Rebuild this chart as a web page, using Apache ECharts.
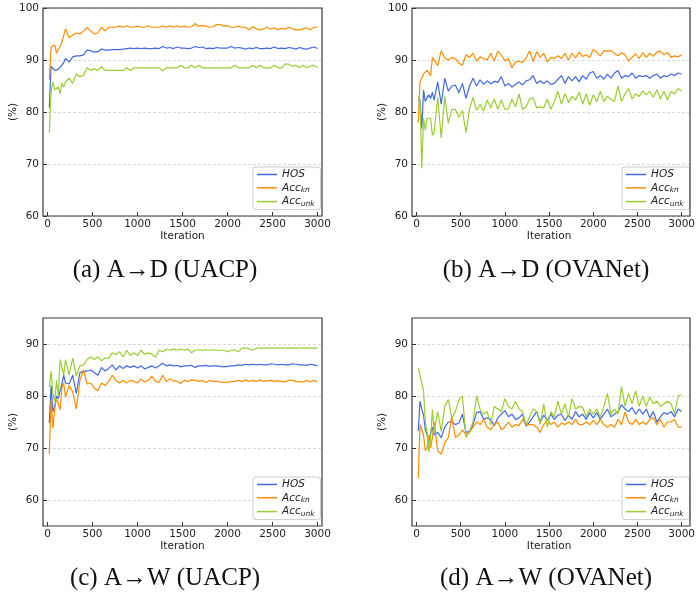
<!DOCTYPE html>
<html>
<head>
<meta charset="utf-8">
<script src="https://cdn.jsdelivr.net/npm/echarts@6/dist/echarts.min.js"></script>
<style>html,body{margin:0;padding:0;background:#fff;}#c{width:698px;height:592px;}</style>
</head>
<body>
<div id="c"></div>
<script>
const iterations = [20,40,60,80,100,120,140,160,180,200,240,280,320,360,400,440,480,520,560,600,640,680,720,760,800,840,880,920,960,1000,1040,1080,1120,1160,1200,1240,1280,1320,1360,1400,1440,1480,1520,1560,1600,1640,1680,1720,1760,1800,1840,1880,1920,1960,2000,2040,2080,2120,2160,2200,2240,2280,2320,2360,2400,2440,2480,2520,2560,2600,2640,2680,2720,2760,2800,2840,2880,2920,2960,3000];
const xTicks = [0,500,1000,1500,2000,2500,3000];
const seriesNames = ['HOS','Acc_kn','Acc_unk'];
const captions = ['(a) A\u2192D (UACP)','(b) A\u2192D (OVANet)','(c) A\u2192W (UACP)','(d) A\u2192W (OVANet)'];

// (a) A->D UACP
const aHOS = [80.8,88.8,88.5,88.0,87.9,88.2,88.2,89.0,89.5,90.3,
 89.6,90.6,90.8,90.8,91.0,91.9,91.8,91.5,91.6,92.1,
 91.9,91.9,92.0,92.0,92.0,92.1,92.2,92.3,92.2,92.3,
 92.2,92.3,92.2,92.2,92.3,92.2,92.6,92.3,92.4,92.2,
 92.5,92.3,92.3,92.2,92.3,92.6,92.4,92.5,92.2,92.3,
 92.2,92.4,92.3,92.3,92.3,92.6,92.3,92.4,92.3,92.1,
 92.3,92.2,92.4,92.2,92.2,92.3,92.2,92.5,92.2,92.3,
 92.2,92.4,92.3,92.1,92.4,92.2,92.1,92.3,92.5,92.2];
const aKn = [86.2,92.5,92.3,92.9,91.3,92.0,92.6,93.4,93.6,96.0,
 94.3,94.8,95.2,95.0,95.6,96.2,95.6,95.0,95.2,96.3,
 95.6,96.3,96.3,96.3,96.5,96.3,96.6,96.3,96.3,96.5,
 96.3,96.3,96.6,96.3,96.3,96.3,96.5,96.3,96.6,96.3,
 96.6,96.3,96.5,96.3,96.4,97.0,96.5,96.6,96.5,96.3,
 96.4,96.8,96.8,96.5,96.6,96.3,96.3,96.5,96.3,96.3,
 95.8,96.4,96.0,95.8,96.0,96.3,95.9,96.2,95.8,96.1,
 95.9,96.3,96.0,95.8,95.8,96.0,96.2,95.8,96.3,96.3];
const aUnk = [76.0,84.0,85.8,84.3,84.5,84.8,83.5,85.6,84.8,85.8,
 86.5,85.5,87.3,86.8,87.0,88.5,88.0,88.3,88.0,88.7,
 88.0,88.0,88.0,88.0,88.0,88.0,88.5,88.0,88.5,88.5,
 88.5,88.5,88.5,88.5,88.5,88.5,87.9,88.5,88.5,88.5,
 88.5,89.0,88.5,88.5,89.0,88.5,89.0,88.5,88.5,88.5,
 88.5,88.5,88.5,88.5,88.5,88.5,89.0,88.5,88.5,88.5,
 88.5,89.0,88.5,89.0,88.5,88.5,88.5,89.0,88.5,88.5,
 89.2,89.2,88.8,89.0,88.5,89.0,88.5,88.8,89.0,88.5];

// (b) A->D OVANet
const bHOS = [82.5,82.0,76.8,84.2,82.0,82.8,83.3,82.6,83.8,82.3,
 85.8,81.5,86.5,84.0,85.0,85.2,83.7,85.5,82.6,85.0,
 86.5,85.0,86.2,85.3,86.0,85.4,85.9,85.7,86.8,85.0,
 85.5,84.8,85.3,85.8,85.2,86.0,86.2,87.0,85.5,86.0,
 85.5,86.0,85.3,85.5,86.3,87.0,85.5,86.8,86.0,86.8,
 85.8,87.0,86.3,87.5,87.8,86.5,87.0,86.3,87.3,86.5,
 87.5,88.0,86.5,87.0,86.8,87.5,86.5,87.0,86.8,87.0,
 86.5,87.0,87.3,86.5,87.0,86.8,87.3,87.0,87.5,87.3];
const bKn = [78.0,85.8,86.5,87.3,87.5,88.0,88.2,87.0,90.5,90.0,
 88.9,91.8,90.4,90.0,90.5,90.2,89.4,89.0,91.0,90.5,
 91.3,89.8,90.6,90.3,90.0,91.3,89.8,91.7,91.0,89.8,
 90.3,88.5,89.6,89.8,89.5,90.4,91.8,89.7,91.6,90.5,
 91.3,89.6,90.5,90.3,90.8,90.3,91.3,90.0,91.3,90.4,
 91.5,90.7,91.0,90.5,92.0,91.5,90.8,91.8,91.7,91.8,
 91.3,90.8,91.4,91.0,89.8,90.5,91.2,90.3,91.4,90.5,
 91.3,90.7,91.5,91.7,91.0,91.4,90.5,90.8,90.6,91.0];
const bUnk = [83.0,82.5,69.2,78.8,76.5,78.8,79.0,78.8,75.5,76.2,
 82.8,75.0,83.0,77.8,80.5,80.5,79.0,80.3,76.0,80.5,
 82.8,80.3,81.5,80.2,82.3,80.8,82.5,80.5,82.3,80.5,
 80.6,82.5,81.0,83.5,80.5,81.0,82.5,82.8,80.8,81.0,
 80.8,82.5,80.5,82.0,84.0,81.5,83.5,81.8,83.0,82.3,
 83.8,81.5,83.5,81.3,83.3,82.0,84.0,82.0,83.0,82.5,
 82.0,85.0,82.0,83.5,84.5,82.5,83.5,83.0,84.0,83.3,
 84.0,82.8,84.3,82.5,84.0,82.3,84.0,83.5,84.5,84.0];

// (c) A->W UACP
const cHOS = [74.8,82.0,77.0,78.0,80.0,79.5,81.0,82.3,84.0,82.5,
 82.3,84.0,80.5,84.5,84.8,84.8,85.0,84.5,84.0,85.5,
 84.8,85.3,86.0,85.0,85.8,85.3,85.8,85.5,85.8,85.4,
 85.8,85.2,85.5,85.8,85.4,85.8,86.3,85.8,86.0,85.8,
 85.9,85.6,85.8,85.8,85.9,85.5,85.8,85.8,85.9,85.7,
 85.8,85.8,85.7,85.6,85.7,85.8,85.8,86.0,85.9,86.1,
 86.0,86.1,86.0,86.1,86.0,86.0,86.2,86.1,86.0,86.1,
 86.0,86.0,86.2,86.1,86.0,86.0,85.9,86.1,86.0,85.8];
const cKn = [68.8,79.2,73.8,77.5,79.5,78.5,77.3,81.5,82.5,79.8,
 82.0,80.8,77.5,83.0,85.0,82.3,82.5,81.5,81.0,82.5,
 82.0,82.8,84.0,83.0,82.5,83.0,82.5,83.0,82.8,82.5,
 83.3,82.7,83.0,83.8,82.8,82.6,84.0,82.8,83.3,82.9,
 82.8,82.4,83.0,82.8,83.1,83.0,82.8,83.0,82.6,83.0,
 82.8,82.8,82.7,82.6,82.7,82.7,82.8,83.0,82.8,83.1,
 82.8,83.0,82.8,83.1,82.8,82.9,83.0,82.8,82.9,82.8,
 82.7,83.0,83.0,82.8,82.7,82.7,83.0,82.7,83.0,82.7];
const cUnk = [81.8,84.8,80.5,79.0,83.0,80.0,87.0,86.8,84.0,87.0,
 84.0,87.3,83.8,85.8,86.0,87.0,87.5,87.0,87.5,86.8,
 87.3,87.3,88.3,88.0,88.5,87.5,88.8,87.8,88.3,87.8,
 88.8,88.0,88.3,88.0,87.5,88.8,88.5,89.0,88.8,89.0,
 88.8,89.0,88.8,89.0,88.3,88.8,88.9,88.8,88.9,88.8,
 88.9,88.8,88.8,88.8,88.5,88.8,88.9,88.5,89.2,89.2,
 89.1,88.8,89.2,89.2,89.2,89.2,89.2,89.2,89.2,89.2,
 89.2,89.2,89.2,89.2,89.2,89.2,89.2,89.2,89.2,89.2];

// (d) A->W OVANet
const dHOS = [73.3,79.0,77.5,76.3,73.5,72.5,71.0,73.0,74.0,72.5,
 73.0,72.0,74.0,75.0,75.0,74.5,74.8,76.5,73.0,73.2,
 74.5,76.8,77.0,75.5,75.8,75.5,74.3,75.8,76.5,77.2,
 76.0,76.5,75.5,75.8,76.5,74.2,75.0,76.0,77.0,75.0,
 76.3,75.3,76.5,75.5,76.3,76.5,75.3,76.3,75.5,77.0,
 76.0,76.5,75.5,76.8,75.8,76.8,75.5,76.5,77.5,76.0,
 76.5,77.0,78.3,77.5,77.0,77.8,76.5,77.5,76.5,77.5,
 75.8,77.0,75.0,76.0,76.8,76.5,77.0,76.0,77.5,77.0];
const dKn = [64.2,74.5,73.5,72.5,69.5,70.0,72.5,70.0,72.0,75.0,
 69.5,68.8,71.0,72.0,76.0,72.0,72.5,73.5,72.5,73.0,
 74.0,75.0,74.5,75.5,74.0,73.5,74.5,75.0,73.5,74.0,
 75.0,74.0,74.5,74.3,75.5,74.5,74.5,74.5,74.0,73.0,
 74.5,75.5,74.5,75.0,74.0,74.8,74.5,75.0,74.5,75.5,
 74.5,74.5,75.0,74.5,75.3,74.5,75.5,74.5,74.0,74.5,
 74.0,75.5,74.5,77.0,75.0,74.5,75.5,74.5,75.0,74.5,
 75.5,75.8,74.5,75.5,74.0,75.0,75.0,75.5,74.0,74.0];
const dUnk = [85.3,84.0,82.5,81.0,75.0,73.0,69.2,72.0,77.4,73.0,
 77.0,73.2,78.0,79.3,75.8,77.0,79.3,80.0,72.0,73.2,
 75.0,80.0,77.5,76.5,77.0,74.5,78.0,77.5,77.0,79.5,
 78.0,77.5,79.0,77.5,77.0,74.5,76.0,77.5,77.0,74.5,
 78.5,74.0,77.0,76.0,79.0,76.5,78.5,76.0,79.5,77.5,
 78.0,77.8,76.0,77.5,76.5,77.5,76.0,78.0,80.5,76.5,
 77.5,76.5,81.8,78.0,80.5,78.5,81.0,78.0,80.0,78.0,
 79.8,78.5,79.0,78.0,78.5,79.0,78.5,76.5,80.0,80.3];

const panelData = [[aHOS,aKn,aUnk],[bHOS,bKn,bUnk],[cHOS,cKn,cUnk],[dHOS,dKn,dUnk]];
const yTickRanges = [[60,100],[60,100],[60,90],[60,90]];
const frameRanges = [[60,100],[60,100],[55,95],[55,95]];

// layout (pixels)
const frames = [
  {left:43, top:8, width:279, height:208},
  {left:412, top:8, width:278, height:208},
  {left:43, top:318, width:279, height:208},
  {left:412, top:318, width:278, height:208}
];
const capPos = [[165,270],[546,270],[165,578],[546,578]];
const legendPos = [[253,167],[622,167],[253,477],[622,477]];
const colors = ['#4169E1','#FF8C00','#9ACD32'];
const XF = [-50,3050];

const FONT = 'DejaVu Sans';
const grids = [], xAxes = [], yAxes = [], series = [], legends = [], graphics = [];

frames.forEach((f, k) => {
  const [fmin, fmax] = frameRanges[k];
  const [tmin, tmax] = yTickRanges[k];
  const ppu = f.height / (fmax - fmin);
  const topIn = (fmax - tmax) * ppu;
  const botIn = (tmin - fmin) * ppu;
  const xppu = f.width / (XF[1] - XF[0]);
  const leftIn = (0 - XF[0]) * xppu;
  const rightIn = (XF[1] - 3000) * xppu;
  // frame grid
  grids.push({left:f.left, top:f.top, width:f.width, height:f.height, show:true, borderColor:'#3a3a3a', borderWidth:1.2, backgroundColor:'transparent', z:5});
  xAxes.push({gridIndex:3*k, show:false, type:'value', min:0, max:1});
  yAxes.push({gridIndex:3*k, show:false, type:'value', min:0, max:1});
  // y-axis grid (full width)
  grids.push({left:f.left, top:f.top+topIn, width:f.width, height:f.height-topIn-botIn, show:false});
  xAxes.push({gridIndex:3*k+1, show:false, type:'value', min:0, max:1});
  yAxes.push({gridIndex:3*k+1, type:'value', min:tmin, max:tmax, interval:10,
    axisLine:{show:false},
    axisTick:{show:true, inside:true, length:4, lineStyle:{color:'#333', width:1}},
    axisLabel:{fontFamily:FONT, fontSize:10.5, color:'#222', margin:4},
    splitLine:{show:true, lineStyle:{color:'#cfcfcf', type:[3,2], width:0.8}},
    name:'(%)', nameLocation:'middle', nameGap:24, nameRotate:90, nameMoveOverlap:false,
    nameTextStyle:{fontFamily:FONT, fontSize:10.5, color:'#222'}
  });
  // data grid
  grids.push({left:f.left+leftIn, top:f.top+topIn, width:f.width-leftIn-rightIn, height:f.height-topIn-botIn, show:false});
  xAxes.push({gridIndex:3*k+2, type:'value', min:xTicks[0], max:xTicks[xTicks.length-1], interval:500, offset:botIn,
    axisLine:{show:false},
    axisTick:{show:true, inside:true, length:4, lineStyle:{color:'#333', width:1}},
    axisLabel:{fontFamily:FONT, fontSize:10.5, color:'#222', margin:3, formatter: v => String(v)},
    splitLine:{show:false},
    name:'Iteration', nameLocation:'middle', nameGap:15, nameMoveOverlap:false,
    nameTextStyle:{fontFamily:FONT, fontSize:10.5, color:'#222'}
  });
  yAxes.push({gridIndex:3*k+2, show:false, type:'value', min:tmin, max:tmax});
  panelData[k].forEach((vals, s) => {
    series.push({
      type:'line', name:seriesNames[s], xAxisIndex:3*k+2, yAxisIndex:3*k+2,
      data: iterations.map((it, i) => [it, vals[i]]),
      showSymbol:false, symbol:'none', clip:true,
      lineStyle:{color:colors[s], width:1.2}, itemStyle:{color:colors[s]},
      z:3, animation:false
    });
  });
  legends.push({
    left:legendPos[k][0], top:legendPos[k][1], orient:'vertical',
    data:seriesNames, icon:'rect', itemWidth:20, itemHeight:1.5, itemGap:2.3,
    padding:[2,6,2,4], backgroundColor:'rgba(255,255,255,0.85)',
    borderColor:'#cccccc', borderWidth:1, borderRadius:3,
    selectedMode:false,
    formatter: function(name){
      if (name === 'HOS') return '{i|HOS}';
      if (name === 'Acc_kn') return '{i|Acc}{s|kn}';
      return '{i|Acc}{s|unk}';
    },
    textStyle:{fontFamily:FONT, color:'#222', rich:{
      i:{fontFamily:FONT, fontStyle:'italic', fontSize:10.5, lineHeight:12, color:'#222'},
      s:{fontFamily:FONT, fontStyle:'italic', fontSize:7.5, lineHeight:6, verticalAlign:'bottom', color:'#222'}
    }}
  });
  graphics.push({type:'text', x:capPos[k][0], y:capPos[k][1], z:10,
    style:{text:captions[k], fontFamily:'Liberation Serif', fontSize:25, fill:'#111', align:'center', verticalAlign:'middle'}});
});

const chart = echarts.init(document.getElementById('c'), null, {renderer:'canvas'});
chart.setOption({
  animation:false,
  backgroundColor:'#fff',
  grid:grids, xAxis:xAxes, yAxis:yAxes, series:series, legend:legends, graphic:graphics
});
</script>
</body>
</html>
